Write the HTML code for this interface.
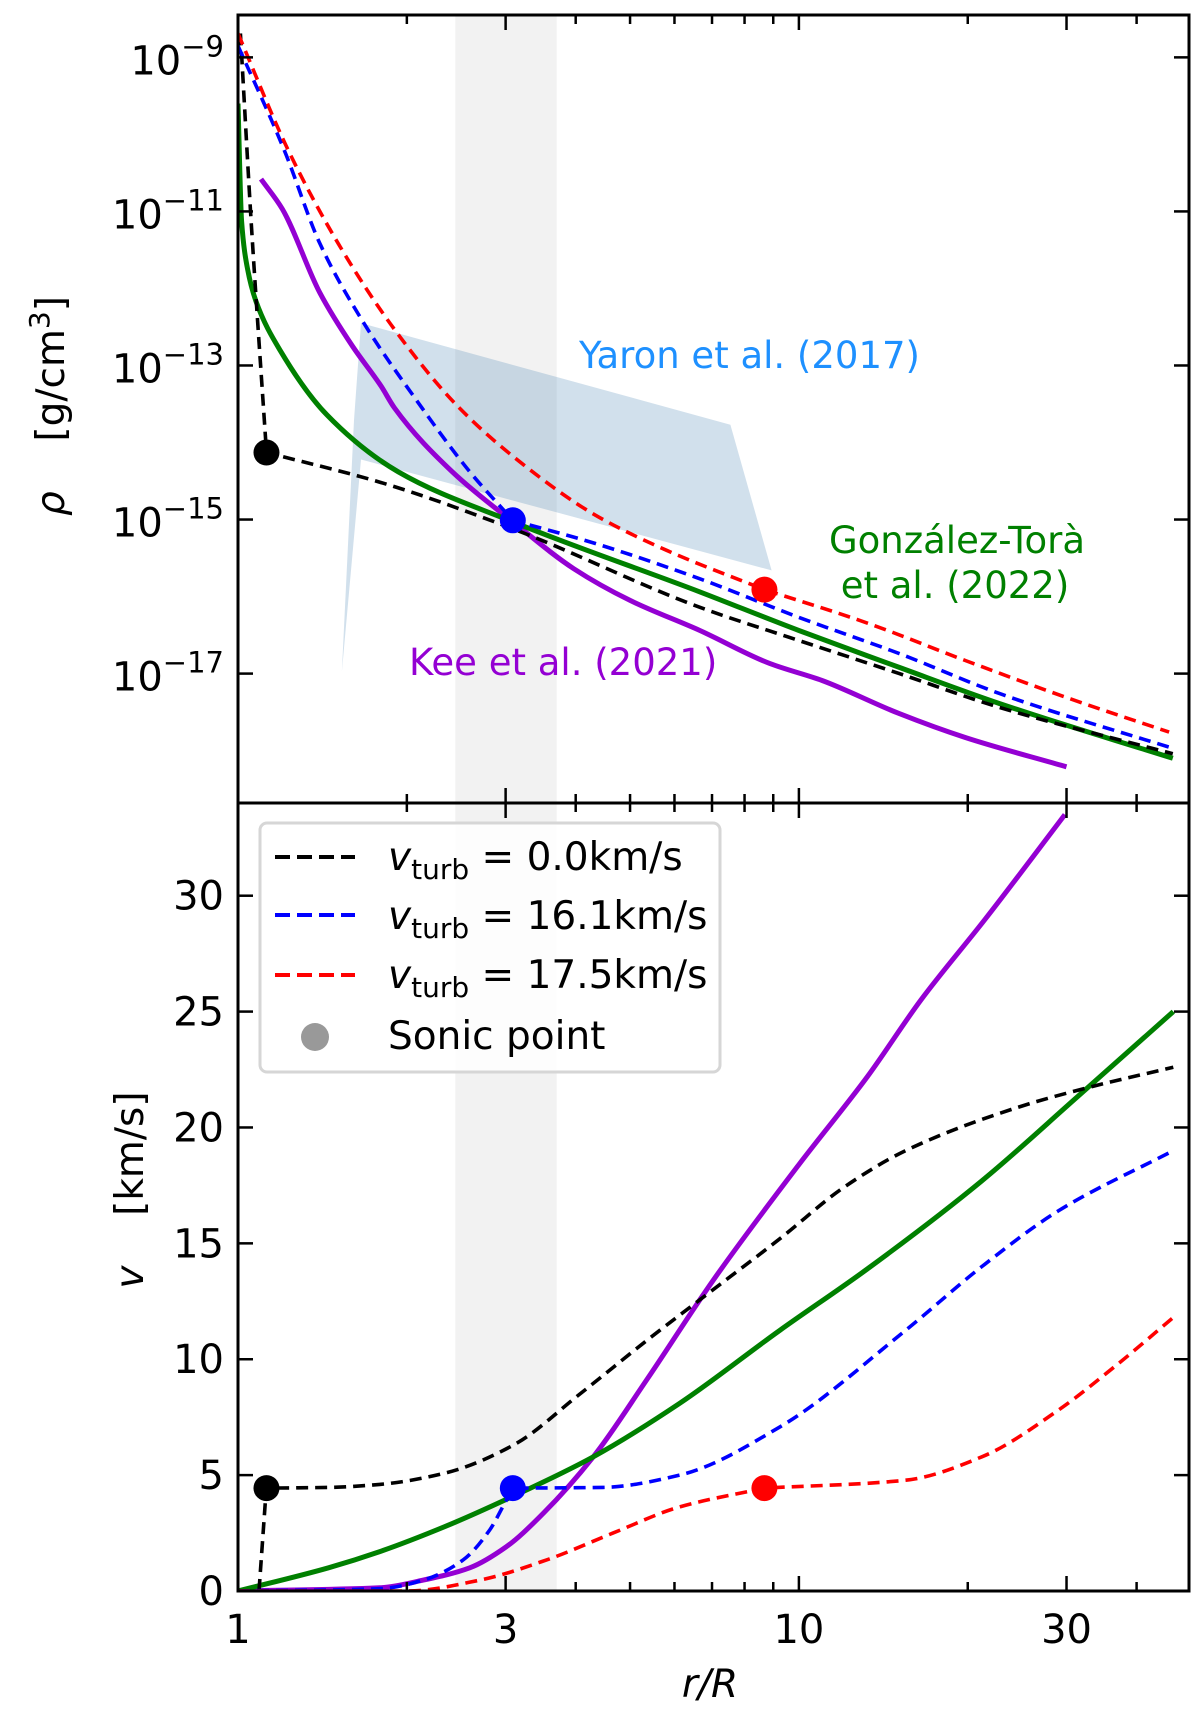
<!DOCTYPE html>
<html><head><meta charset="utf-8"><style>
html,body{margin:0;padding:0;background:#fff;}
svg text{font-family:"DejaVu Sans","Liberation Sans",sans-serif;}
</style></head><body>
<svg id="chart" xmlns="http://www.w3.org/2000/svg" width="1200" height="1719" viewBox="0 0 1200 1719">
<rect x="0" y="0" width="1200" height="1719" fill="#fff"/>
<g id="bg"></g><g id="marks"></g><g id="axes"></g>
</svg>
<script>
// ---- data ----
const xTickVals = [1, 3, 10, 30];
const xTickLabels = ["1", "3", "10", "30"];
const xMinorVals = [2, 4, 5, 6, 7, 8, 9, 20, 40];
const rhoTickExp = [-9, -11, -13, -15, -17];
const vTickVals = [0, 5, 10, 15, 20, 25, 30];
const bandRange = [2.44, 3.70];

const rhoBlackR = [1.01, 1.055, 1.124, 1.80, 3.09, 6.66, 10.0, 15.1, 22.8, 46.4];
const rhoBlackL = [-8.69, -11.1, -14.13, -14.52, -15.12, -16.14, -16.57, -17.0, -17.44, -18.04];
const rhoBlueR = [1.0, 1.21, 1.40, 1.67, 2.08, 2.59, 3.09, 4.33, 6.66, 10.0, 15.1, 22.8, 46.4];
const rhoBlueL = [-8.85, -10.21, -11.42, -12.43, -13.45, -14.38, -15.01, -15.31, -15.77, -16.27, -16.74, -17.26, -17.97];
const rhoRedR = [1.0, 1.23, 1.51, 1.90, 2.48, 3.23, 4.33, 5.81, 8.68, 13.2, 19.8, 30.0, 45.7];
const rhoRedL = [-8.69, -10.21, -11.42, -12.53, -13.55, -14.29, -14.94, -15.40, -15.91, -16.34, -16.83, -17.31, -17.76];
const rhoKeeR = [1.099, 1.20, 1.40, 1.60, 1.80, 1.90, 2.41, 3.09, 3.97, 5.0, 6.66, 8.88, 11.0, 15.1, 19.8, 30.0];
const rhoKeeL = [-10.58, -10.97, -12.06, -12.75, -13.27, -13.55, -14.38, -15.03, -15.64, -16.05, -16.44, -16.87, -17.09, -17.52, -17.83, -18.21];
const rhoGTR = [1.0, 1.015, 1.04, 1.076, 1.19, 1.44, 1.93, 3.09, 6.66, 10.0, 15.1, 22.8, 46.4];
const rhoGTL = [-9.6, -11.13, -11.75, -12.16, -12.81, -13.64, -14.38, -15.03, -15.94, -16.44, -16.92, -17.39, -18.10];
const yaronR = [1.657, 7.55, 8.94, 1.657, 1.532, 1.61];
const yaronL = [-12.45, -13.77, -15.66, -14.22, -16.97, -13.71];

const vBlackR = [1.09, 1.123, 1.45, 1.79, 2.35, 3.10, 4.07, 5.35, 7.03, 9.25, 12.0, 15.5, 24.8, 32.5, 46.5];
const vBlackV = [0, 4.44, 4.47, 4.6, 5.1, 6.3, 8.5, 10.8, 13.0, 15.2, 17.4, 19.0, 20.9, 21.7, 22.6];
const vBlueR = [1.0, 1.79, 2.14, 2.52, 2.81, 2.99, 3.09, 4.47, 6.13, 9.25, 15.5, 21.2, 29.0, 46.5];
const vBlueV = [0, 0.1, 0.47, 1.34, 2.63, 3.8, 4.44, 4.47, 5.0, 7.08, 11.25, 14.0, 16.4, 19.0];
const vRedR = [1.0, 2.0, 2.70, 3.55, 4.66, 6.13, 8.68, 15.5, 21.2, 29.0, 36.5, 46.5];
const vRedV = [0, 0, 0.47, 1.34, 2.5, 3.63, 4.44, 4.78, 5.79, 7.8, 9.67, 11.8];
const vKeeR = [1.0, 1.79, 2.14, 2.59, 3.01, 3.50, 4.30, 5.35, 7.03, 10.0, 13.25, 16.5, 21.5, 29.8];
const vKeeV = [0, 0.14, 0.47, 1.0, 1.91, 3.35, 5.79, 9.1, 13.4, 18.4, 22.2, 25.5, 29.0, 33.5];
const vGTR = [1.0, 1.45, 1.79, 2.35, 3.10, 4.30, 6.13, 9.25, 13.25, 21.2, 31.3, 46.5];
const vGTV = [0, 1.0, 1.7, 2.8, 4.1, 5.79, 8.1, 11.25, 13.9, 17.7, 21.3, 25.0];

const sonicR = [1.124, 3.09, 8.68];
const sonicL = [-14.13, -15.01, -15.91];
const sonicV = [4.44, 4.44, 4.44];
const sonicColors = ["#000000", "#0000ff", "#ff0000"];

// ---- geometry ----
const L = 238, R = 1189, T = 15, M = 803, B = 1591;
const xMinLog = 0, xMaxLog = Math.log10(49.6);
const rhoTop = -8.45, rhoBot = -18.68;
const vTop = 34.0, vBot = 0;
function X(r){ return L + (Math.log10(r) - xMinLog) / (xMaxLog - xMinLog) * (R - L); }
function YR(l){ return T + (rhoTop - l) / (rhoTop - rhoBot) * (M - T); }
function YV(v){ return B - (v - vBot) / (vTop - vBot) * (B - M); }

const NS = "http://www.w3.org/2000/svg";
function mk(parent, tag, attrs){
  const e = document.createElementNS(NS, tag);
  for (const k in attrs) e.setAttribute(k, attrs[k]);
  parent.appendChild(e); return e;
}
const bg = document.getElementById('bg');
const marks = document.getElementById('marks');
const axes = document.getElementById('axes');

const defs = mk(bg, 'defs', {});
const c1 = mk(defs, 'clipPath', {id:'clipTop'}); mk(c1, 'rect', {x:L, y:T, width:R-L, height:M-T});
const c2 = mk(defs, 'clipPath', {id:'clipBot'}); mk(c2, 'rect', {x:L, y:M, width:R-L, height:B-M});

const band = mk(bg, 'rect', {x:X(bandRange[0]), y:T, width:X(bandRange[1])-X(bandRange[0]), height:B-T, fill:'#f2f2f2'});



const gTop = mk(marks, 'g', {'clip-path':'url(#clipTop)'});


const gBot = mk(marks, 'g', {'clip-path':'url(#clipBot)'});



const yPts = yaronR.map((r,i)=>X(r).toFixed(1)+','+YR(yaronL[i]).toFixed(1)).join(' ');
const yaron = mk(gTop, 'polygon', {points:yPts, fill:'rgb(70,130,180)', 'fill-opacity':0.25});



function monoSeg(xs, ys, first){
  const n = xs.length;
  let d = first ? 'M'+xs[0].toFixed(1)+' '+ys[0].toFixed(1) : '';
  if (n < 3){ for (let i=1;i<n;i++) d += ' L'+xs[i].toFixed(1)+' '+ys[i].toFixed(1); return d; }
  const dx=[], s=[];
  for (let i=0;i<n-1;i++){ dx.push(Math.max(xs[i+1]-xs[i],1e-6)); s.push((ys[i+1]-ys[i])/dx[i]); }
  const m=[s[0]];
  for (let i=1;i<n-1;i++){
    if (s[i-1]*s[i] <= 0) m.push(0);
    else { const w1=2*dx[i]+dx[i-1], w2=dx[i]+2*dx[i-1]; m.push((w1+w2)/(w1/s[i-1]+w2/s[i])); }
  }
  m.push(s[n-2]);
  for (let i=0;i<n-1;i++){
    const h=dx[i];
    d += ' C'+(xs[i]+h/3).toFixed(1)+' '+(ys[i]+m[i]*h/3).toFixed(1)+' '+(xs[i+1]-h/3).toFixed(1)+' '+(ys[i+1]-m[i+1]*h/3).toFixed(1)+' '+xs[i+1].toFixed(1)+' '+ys[i+1].toFixed(1);
  }
  return d;
}
function line(g, rs, vals, yf, color, w, dashed, name, breakAt){
  const xs = rs.map(X), ys = vals.map(yf);
  let d;
  if (breakAt != null){
    d = monoSeg(xs.slice(0,breakAt+1), ys.slice(0,breakAt+1), true) + monoSeg(xs.slice(breakAt), ys.slice(breakAt), false);
  } else d = monoSeg(xs, ys, true);
  const attrs = {d:d, fill:'none', stroke:color, 'stroke-width':w, 'stroke-linejoin':'round'};
  if (dashed) attrs['stroke-dasharray'] = '12,7';
  const p = mk(g, 'path', attrs);
  
  
}
line(gTop, rhoKeeR, rhoKeeL, YR, '#9400d3', 5, false, 'kee-density-line');
line(gTop, rhoGTR, rhoGTL, YR, '#008000', 5, false, 'gonzalez-tora-density-line');
line(gTop, rhoBlackR, rhoBlackL, YR, '#000', 3.6, true, 'density-vturb-0-line', 2);
line(gTop, rhoBlueR, rhoBlueL, YR, '#0000ff', 3.6, true, 'density-vturb-16-line', 6);
line(gTop, rhoRedR, rhoRedL, YR, '#ff0000', 3.6, true, 'density-vturb-17-line', 8);

line(gBot, vKeeR, vKeeV, YV, '#9400d3', 5, false, 'kee-velocity-line');
line(gBot, vGTR, vGTV, YV, '#008000', 5, false, 'gonzalez-tora-velocity-line');
line(gBot, vBlackR, vBlackV, YV, '#000', 3.6, true, 'velocity-vturb-0-line', 1);
line(gBot, vBlueR, vBlueV, YV, '#0000ff', 3.6, true, 'velocity-vturb-16-line', 6);
line(gBot, vRedR, vRedV, YV, '#ff0000', 3.6, true, 'velocity-vturb-17-line', 6);

for (let i = 0; i < sonicR.length; i++){
  const a = mk(marks, 'circle', {cx:X(sonicR[i]), cy:YR(sonicL[i]), r:13, fill:sonicColors[i]});
  
  
  const b = mk(marks, 'circle', {cx:X(sonicR[i]), cy:YV(sonicV[i]), r:13, fill:sonicColors[i]});
  
  
}

function tick(x1,y1,x2,y2){ mk(axes,'line',{x1:x1,y1:y1,x2:x2,y2:y2,stroke:'#000','stroke-width':2.5}); }
const panels = [[T,M],[M,B]];
panels.forEach(([pt,pb])=>{
  xTickVals.forEach(v=>{ const x=X(v); tick(x,pb,x,pb-15); tick(x,pt,x,pt+15); });
  xMinorVals.forEach(v=>{ const x=X(v); tick(x,pb,x,pb-9); tick(x,pt,x,pt+9); });
});
rhoTickExp.forEach(e=>{ const y=YR(e); tick(L,y,L+15,y); tick(R,y,R-15,y); });
vTickVals.forEach(v=>{ const y=YV(v); tick(L,y,L+15,y); tick(R,y,R-15,y); });
const f1 = mk(axes,'rect',{x:L,y:T,width:R-L,height:M-T,fill:'none',stroke:'#000','stroke-width':3});


const f2 = mk(axes,'rect',{x:L,y:M,width:R-L,height:B-M,fill:'none',stroke:'#000','stroke-width':3});



xTickVals.forEach((v,i)=>{
  const t = mk(axes,'text',{x:X(v), y:1643, 'text-anchor':'middle', 'font-size':40, fill:'#000'});
  t.textContent = xTickLabels[i];
  
  
});
vTickVals.forEach(v=>{
  const t = mk(axes,'text',{x:224, y:YV(v)+14, 'text-anchor':'end', 'font-size':40, fill:'#000'});
  t.textContent = String(v);
  
  
});
rhoTickExp.forEach(e=>{
  const t = mk(axes,'text',{x:224, y:YR(e)+17, 'text-anchor':'end', 'font-size':40, fill:'#000'});
  const a = mk(t,'tspan',{}); a.textContent = '10';
  const b = mk(t,'tspan',{'font-size':29, dy:-18}); b.textContent = '\u2212' + String(-e);
  
  
});
</script>

<svg style="position:absolute;left:0;top:0" width="1200" height="1719" viewBox="0 0 1200 1719" xmlns="http://www.w3.org/2000/svg">
  <g font-family="DejaVu Sans, Liberation Sans, sans-serif">
    <text x="579" y="368" font-size="37" fill="#1e90ff">Yaron et al. (2017)</text>
    <text x="957" y="553" font-size="37" fill="#008000" text-anchor="middle">González-Torà</text>
    <text x="955" y="598" font-size="37" fill="#008000" text-anchor="middle">et al. (2022)</text>
    <text x="409" y="675" font-size="37" fill="#9400d3">Kee et al. (2021)</text>

    <g>
      <rect x="260" y="823" width="460" height="249" rx="7" fill="#fff" fill-opacity="0.85" stroke="#d6d6d6" stroke-width="3"/>
      <line x1="275" y1="857" x2="355" y2="857" stroke="#000" stroke-width="4" stroke-dasharray="15,7"/>
      <line x1="275" y1="915" x2="355" y2="915" stroke="#0000ff" stroke-width="4" stroke-dasharray="15,7"/>
      <line x1="275" y1="975" x2="355" y2="975" stroke="#ff0000" stroke-width="4" stroke-dasharray="15,7"/>
      <circle cx="315" cy="1037" r="14" fill="#999"/>
      <text x="388" y="870" font-size="39" fill="#000"><tspan font-style="italic">v</tspan><tspan font-size="28" dy="9">turb</tspan><tspan dy="-9"> = 0.0km/s</tspan></text>
      <text x="388" y="929" font-size="39" fill="#000"><tspan font-style="italic">v</tspan><tspan font-size="28" dy="9">turb</tspan><tspan dy="-9"> = 16.1km/s</tspan></text>
      <text x="388" y="988" font-size="39" fill="#000"><tspan font-style="italic">v</tspan><tspan font-size="28" dy="9">turb</tspan><tspan dy="-9"> = 17.5km/s</tspan></text>
      <text x="388" y="1049" font-size="39" fill="#000">Sonic point</text>
    </g>

    <text transform="translate(64,406) rotate(-90)" text-anchor="middle" font-size="39" fill="#000" xml:space="preserve"><tspan font-style="italic">ρ</tspan><tspan>&#160;&#160;&#160;&#160;[g/cm</tspan><tspan font-size="28" dy="-15">3</tspan><tspan dy="15">]</tspan></text>
    <text transform="translate(143,1190) rotate(-90)" text-anchor="middle" font-size="39" fill="#000" xml:space="preserve"><tspan font-style="italic">v</tspan><tspan>&#160;&#160;&#160;&#160;[km/s]</tspan></text>
    <text x="710" y="1697" text-anchor="middle" font-size="39" fill="#000" font-style="italic">r/R</text>
  </g>
</svg>
</body></html>
